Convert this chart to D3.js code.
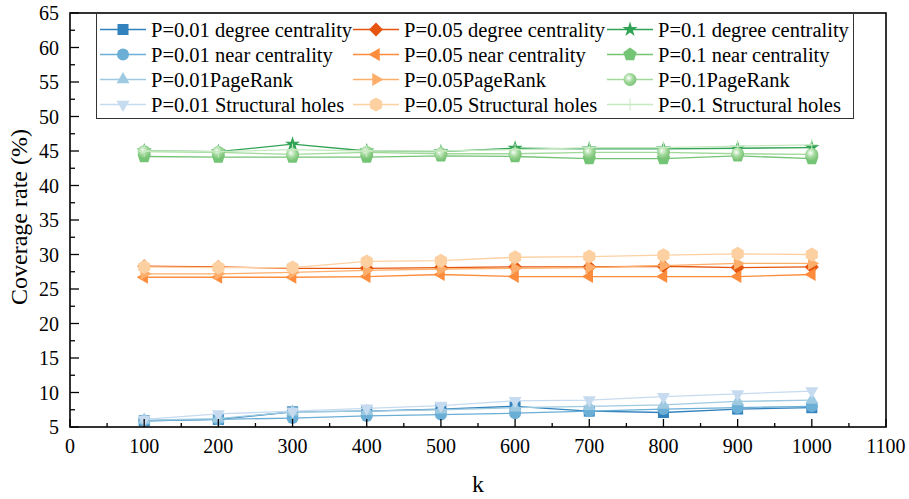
<!DOCTYPE html>
<html>
<head>
<meta charset="utf-8">
<script src="https://d3js.org/d3.v7.min.js"></script>
<style>
  body { margin: 0; background: #fff; }
  svg text { font-family: "Liberation Serif", "Times New Roman", Times, serif; fill: #000; }
</style>
</head>
<body>
<script>
  var width = 909
  var height = 499
  var margin = {left: 70, right: 23, top: 13, bottom: 72}

  // data
  var kValues = [100, 200, 300, 400, 500, 600, 700, 800, 900, 1000]
  var metrics = ["degree centrality", "near centrality", "PageRank", "Structural holes"]
  var pLabels = ["P=0.01", "P=0.05", "P=0.1"]

  var p001Degree = [5.9, 6.1, 7.2, 7.3, 7.6, 8.0, 7.3, 7.1, 7.6, 7.8]
  var p001Near   = [5.9, 6.1, 6.3, 6.6, 6.8, 7.0, 7.3, 7.6, 7.8, 8.0]
  var p001PR     = [6.0, 6.2, 7.2, 7.3, 7.5, 7.8, 8.0, 8.2, 8.7, 8.9]
  var p001SH     = [6.1, 6.9, 7.3, 7.7, 8.1, 8.8, 8.9, 9.4, 9.8, 10.2]

  var p005Degree = [28.3, 28.2, 28.0, 28.0, 28.1, 28.2, 28.2, 28.3, 28.1, 28.2]
  var p005Near   = [26.7, 26.7, 26.7, 26.8, 27.1, 26.8, 26.8, 26.8, 26.8, 27.1]
  var p005PR     = [27.2, 27.2, 27.4, 27.7, 27.9, 28.0, 28.1, 28.4, 28.7, 28.7]
  var p005SH     = [28.2, 28.1, 28.1, 29.0, 29.1, 29.6, 29.7, 29.9, 30.1, 30.0]

  var p01Degree  = [45.0, 44.9, 46.0, 45.0, 44.9, 45.4, 45.3, 45.3, 45.4, 45.5]
  var p01Near    = [44.2, 44.1, 44.1, 44.1, 44.3, 44.2, 43.9, 43.9, 44.3, 43.9]
  var p01PR      = [44.9, 44.8, 44.5, 44.8, 44.6, 44.6, 44.8, 44.8, 44.6, 44.5]
  var p01SH      = [45.0, 44.9, 45.2, 45.0, 45.0, 45.2, 45.5, 45.5, 45.7, 45.9]

  var xTicks = d3.range(0, 1101, 100)
  var yTicks = d3.range(5, 66, 5)

  var colors = ["#3182bd", "#6baed6", "#9ecae1", "#c6dbef",
                "#e6550d", "#fd8d3c", "#fdae6b", "#fdd0a2",
                "#31a354", "#74c476", "#a1d99b", "#c7e9c0"]
  var shapes = ["square", "circle", "triUp", "triDown",
                "diamond", "triLeft", "triRight", "hexagon",
                "star", "pentagon", "sphere", "plus"]

  var allValues = [p001Degree, p001Near, p001PR, p001SH,
                   p005Degree, p005Near, p005PR, p005SH,
                   p01Degree, p01Near, p01PR, p01SH]

  var series = allValues.map(function(vals, i) {
    var p = Math.floor(i / 4), m = i % 4
    var sep = m == 2 ? "" : " "
    return {
      name: pLabels[p] + sep + metrics[m],
      color: colors[i],
      shape: shapes[i],
      points: kValues.map(function(k, j) { return {k: k, v: vals[j]} })
    }
  })

  var x = d3.scaleLinear().domain([0, 1100]).range([margin.left, width - margin.right])
  var y = d3.scaleLinear().domain([5, 65]).range([height - margin.bottom, margin.top])

  var svg = d3.select("body").append("svg")
              .attr("width", width)
              .attr("height", height)
              .attr("font-family", "Liberation Serif, Times New Roman, serif")

  var defs = svg.append("defs")
  var grad = defs.append("radialGradient").attr("id", "sphere")
                 .attr("cx", "40%").attr("cy", "38%").attr("r", "60%")
  grad.append("stop").attr("offset", "0%").attr("stop-color", "#ffffff")
  grad.append("stop").attr("offset", "55%").attr("stop-color", "#a1d99b")
  grad.append("stop").attr("offset", "100%").attr("stop-color", "#7fc47a")

  function polygon(n, r, rot) {
    var pts = d3.range(n).map(function(i) {
      var a = rot + i * 2 * Math.PI / n
      return [r * Math.cos(a), r * Math.sin(a)]
    })
    return "M" + pts.join("L") + "Z"
  }

  function drawMarker(g, s) {
    var c = s.color
    if (s.shape == "square") {
      g.append("rect").attr("x", -5.5).attr("y", -5.5).attr("width", 11).attr("height", 11).attr("fill", c)
    } else if (s.shape == "circle") {
      g.append("circle").attr("r", 6).attr("fill", c)
    } else if (s.shape == "triUp") {
      g.append("path").attr("d", polygon(3, 7.5, -Math.PI / 2)).attr("fill", c)
    } else if (s.shape == "triDown") {
      g.append("path").attr("d", polygon(3, 7.5, Math.PI / 2)).attr("fill", c)
    } else if (s.shape == "triLeft") {
      g.append("path").attr("d", polygon(3, 7.5, Math.PI)).attr("fill", c)
    } else if (s.shape == "triRight") {
      g.append("path").attr("d", polygon(3, 7.5, 0)).attr("fill", c)
    } else if (s.shape == "diamond") {
      g.append("path").attr("d", polygon(4, 7, 0)).attr("fill", c)
    } else if (s.shape == "hexagon") {
      g.append("path").attr("d", polygon(6, 7, -Math.PI / 2)).attr("fill", c)
    } else if (s.shape == "pentagon") {
      g.append("path").attr("d", polygon(5, 7, -Math.PI / 2)).attr("fill", c)
    } else if (s.shape == "star") {
      g.append("path").attr("d", d3.symbol(d3.symbolStar, 70)()).attr("fill", c)
    } else if (s.shape == "sphere") {
      g.append("circle").attr("r", 6.5).attr("fill", "url(#sphere)")
    } else if (s.shape == "plus") {
      g.append("path").attr("d", "M-6,0H6M0,-6V6").attr("stroke", c).attr("stroke-width", 1)
    }
  }

  var plot = svg.append("g")

  var line = d3.line()
               .x(function(d) { return x(d.k) })
               .y(function(d) { return y(d.v) })

  series.forEach(function(s) {
    var g = plot.append("g")
    g.append("path")
      .datum(s.points)
      .attr("d", line)
      .attr("fill", "none")
      .attr("stroke", s.color)
      .attr("stroke-width", 1.3)
    g.selectAll("g.m")
      .data(s.points)
      .enter()
      .append("g")
      .attr("class", "m")
      .attr("transform", function(d) { return "translate(" + x(d.k) + "," + y(d.v) + ")" })
      .each(function() { drawMarker(d3.select(this), s) })
  })

  // axes, ticks pointing inward
  var xMinor = d3.range(50, 1100, 100)
  var yMinor = d3.range(7.5, 65, 5)

  var xAxis = svg.append("g").attr("transform", "translate(0," + y(5) + ")")
  xAxis.selectAll("line.major").data(xTicks).enter().append("line")
       .attr("x1", function(d) { return x(d) }).attr("x2", function(d) { return x(d) })
       .attr("y1", 0).attr("y2", -8).attr("stroke", "#000").attr("stroke-width", 1.3)
  xAxis.selectAll("line.minor").data(xMinor).enter().append("line")
       .attr("x1", function(d) { return x(d) }).attr("x2", function(d) { return x(d) })
       .attr("y1", 0).attr("y2", -4).attr("stroke", "#000").attr("stroke-width", 1.3)
  xAxis.selectAll("text").data(xTicks).enter().append("text")
       .attr("x", function(d) { return x(d) }).attr("y", 26)
       .attr("text-anchor", "middle").style("font-size", "20px")
       .text(function(d) { return d })

  var yAxis = svg.append("g").attr("transform", "translate(" + x(0) + ",0)")
  yAxis.selectAll("line.major").data(yTicks).enter().append("line")
       .attr("y1", function(d) { return y(d) }).attr("y2", function(d) { return y(d) })
       .attr("x1", 0).attr("x2", 9).attr("stroke", "#000").attr("stroke-width", 1.3)
  yAxis.selectAll("line.minor").data(yMinor).enter().append("line")
       .attr("y1", function(d) { return y(d) }).attr("y2", function(d) { return y(d) })
       .attr("x1", 0).attr("x2", 5).attr("stroke", "#000").attr("stroke-width", 1.3)
  yAxis.selectAll("text").data(yTicks).enter().append("text")
       .attr("x", -11).attr("y", function(d) { return y(d) + 7 })
       .attr("text-anchor", "end").style("font-size", "20px")
       .text(function(d) { return d })

  // frame
  svg.append("rect")
     .attr("x", x(0)).attr("y", y(65))
     .attr("width", x(1100) - x(0)).attr("height", y(5) - y(65))
     .attr("fill", "none").attr("stroke", "#000").attr("stroke-width", 1.6)

  svg.append("text")
     .attr("transform", "translate(27," + (y(35) - 3) + ") rotate(-90)")
     .attr("text-anchor", "middle").style("font-size", "24px")
     .text("Coverage rate (%)")

  svg.append("text")
     .attr("x", x(550)).attr("y", 492)
     .attr("text-anchor", "middle").style("font-size", "24px")
     .text("k")

  // legend
  var legend = svg.append("g")
  legend.append("rect")
        .attr("x", 96.5).attr("y", 13.5).attr("width", 757).attr("height", 105)
        .attr("fill", "#fff").attr("stroke", "#333").attr("stroke-width", 1)

  var colX = [100, 353, 607]
  series.forEach(function(s, i) {
    var col = Math.floor(i / 4), row = i % 4
    var lx = colX[col], ly = 29.5 + row * 25
    var g = legend.append("g")
    g.append("line").attr("x1", lx).attr("x2", lx + 46).attr("y1", ly).attr("y2", ly)
     .attr("stroke", s.color).attr("stroke-width", 1.3)
    drawMarker(g.append("g").attr("transform", "translate(" + (lx + 23) + "," + ly + ")"), s)
    g.append("text").attr("x", lx + 51).attr("y", ly + 7)
     .style("font-size", "20.5px").text(s.name)
  })
</script>
</body>
</html>
